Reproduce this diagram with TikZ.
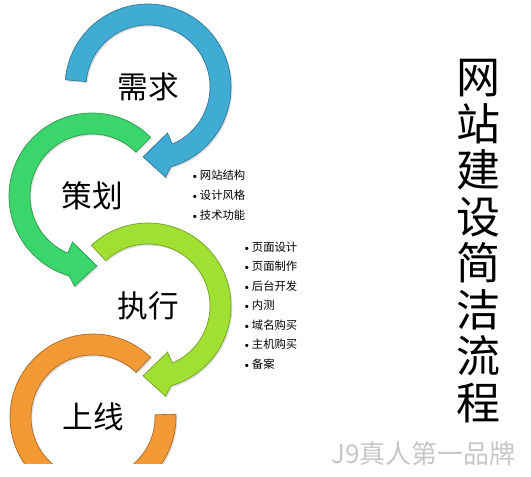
\documentclass[tikz,border=0pt]{standalone}
\usepackage{fontspec}
\newfontfamily\cjk{Noto Sans CJK SC}
\usetikzlibrary{positioning}
\usetikzlibrary{shadows}
\definecolor{ringblue}{RGB}{64,172,212}
\definecolor{ringgreen}{RGB}{58,214,108}
\definecolor{ringlime}{RGB}{160,224,50}
\definecolor{ringorange}{RGB}{242,152,52}

\newcommand{\dotmark}{{\rmfamily\textbullet}\kern0.5pt}

\tikzset{
  ring/.style={fill=#1, draw=#1!70!black, line width=0.5pt,
    drop shadow={opacity=0.25, shadow xshift=1pt, shadow yshift=-1.2pt}},
  stage/.style={font=\cjk\fontsize{23}{28}\selectfont},
  item/.style={font=\cjk\fontsize{8.5}{10}\selectfont, anchor=west, inner sep=0pt},
}

\begin{document}
\begin{tikzpicture}[x=0.75pt, y=0.75pt]
  \useasboundingbox (0,0) rectangle (531,476);

  % 上线
  \begin{scope}
    \clip (0,13) rectangle (531,476);
    \begin{scope}[shift={(93,59)}]
      \draw[ring=ringorange] (46:83) arc[start angle=46, end angle=362, radius=83]
        -- (362:62) arc[start angle=362, end angle=46, radius=62] -- cycle;
    \end{scope}
  \end{scope}

  % 执行
  \begin{scope}[shift={(148,170)}]
    \draw[ring=ringlime] (133:83) arc[start angle=133, end angle=-74, radius=83]
      -- (-79:92) -- (-94:70) -- (-67:50) -- (-67:62)
      arc[start angle=-67, end angle=133, radius=62] -- cycle;
  \end{scope}

  % 策划
  \begin{scope}[shift={(92,280)}]
    \draw[ring=ringgreen] (45:83) arc[start angle=45, end angle=254, radius=83]
      -- (259:92) -- (274:70) -- (247:50) -- (247:62)
      arc[start angle=247, end angle=45, radius=62] -- cycle;
  \end{scope}

  % 需求
  \begin{scope}[shift={(148,389)}]
    \draw[ring=ringblue] (175:83) arc[start angle=175, end angle=-74, radius=83]
      -- (-79:92) -- (-94:70) -- (-67:50) -- (-67:62)
      arc[start angle=-67, end angle=175, radius=62] -- cycle;
  \end{scope}

  \node[stage] (need) at (148,389) {需求};
  \node[stage] (plan) at (92,280) {策划};
  \node[stage] (exec) at (148,170) {执行};
  \node[stage] (live) at (93,59) {上线};

  \node[item] (plan1) at (190,301) {\dotmark 网站结构};
  \node[below=15pt of plan1.west, item] (plan2) {\dotmark 设计风格};
  \node[below=15pt of plan2.west, item] (plan3) {\dotmark 技术功能};

  \node[item] (exec1) at (242,229) {\dotmark 页面设计};
  \node[below=14.6pt of exec1.west, item] (exec2) {\dotmark 页面制作};
  \node[below=14.6pt of exec2.west, item] (exec3) {\dotmark 后台开发};
  \node[below=14.6pt of exec3.west, item] (exec4) {\dotmark 内测};
  \node[below=14.6pt of exec4.west, item] (exec5) {\dotmark 域名购买};
  \node[below=14.6pt of exec5.west, item] (exec6) {\dotmark 主机购买};
  \node[below=14.6pt of exec6.west, item] (exec7) {\dotmark 备案};

  \node[font=\cjk\fontsize{33}{34.9}\selectfont, align=center] (title) at (478,235)
    {网\\站\\建\\设\\简\\洁\\流\\程};

  \node[font=\cjk\fontsize{19.5}{22}\selectfont, text=black!22, anchor=west, inner sep=0pt]
    (mark) at (331,22) {J9真人第一品牌};
\end{tikzpicture}
\end{document}
